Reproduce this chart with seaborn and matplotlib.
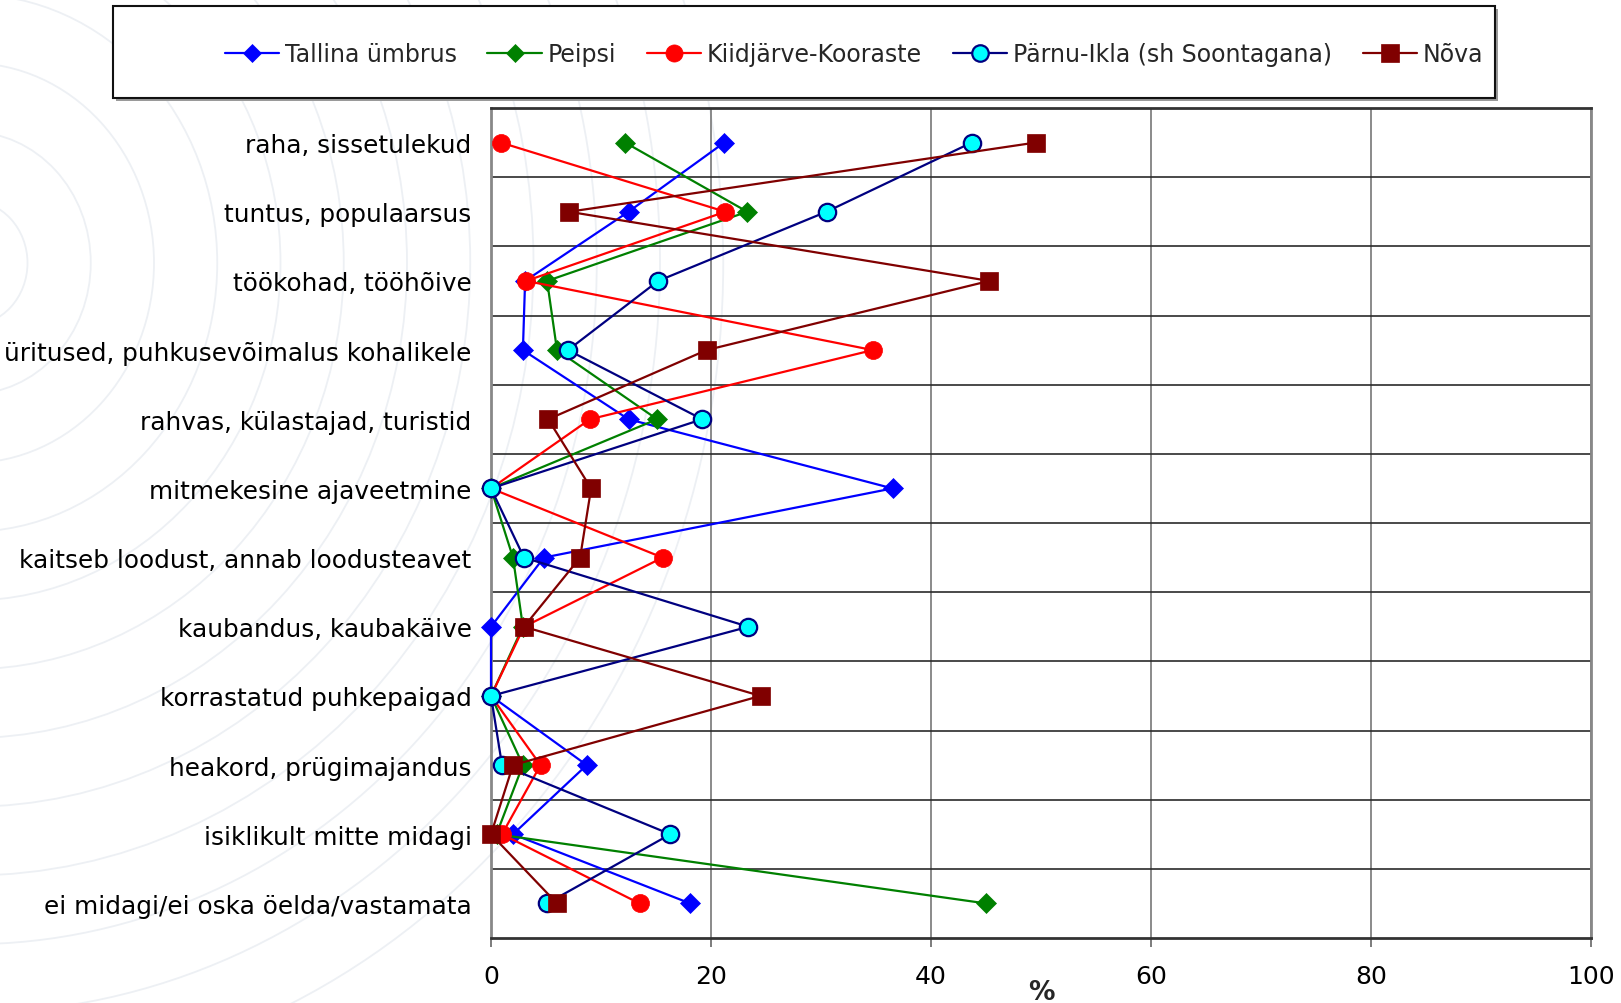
import numpy as np
import pandas as pd
import matplotlib
matplotlib.use("Agg")
import matplotlib.pyplot as plt
import seaborn as sns
from matplotlib.patches import Ellipse, Rectangle

# ---------------- data ----------------
categories = [
    "raha, sissetulekud",
    "tuntus, populaarsus",
    "töökohad, tööhõive",
    "üritused, puhkusevõimalus kohalikele",
    "rahvas, külastajad, turistid",
    "mitmekesine ajaveetmine",
    "kaitseb loodust, annab loodusteavet",
    "kaubandus, kaubakäive",
    "korrastatud puhkepaigad",
    "heakord, prügimajandus",
    "isiklikult mitte midagi",
    "ei midagi/ei oska öelda/vastamata",
]
series_names = ["Tallina ümbrus", "Peipsi", "Kiidjärve-Kooraste",
                "Pärnu-Ikla (sh Soontagana)", "Nõva"]
tallina = [21.2, 12.5, 3.1, 2.9, 12.5, 36.5, 4.8, 0.0, 0.0, 8.7, 2.0, 18.1]
peipsi = [12.2, 23.3, 5.1, 6.0, 15.1, 0.0, 2.0, 2.9, 0.0, 2.9, 0.5, 45.0]
kiidjarve = [0.9, 21.3, 3.2, 34.7, 9.0, 0.0, 15.6, 3.0, 0.0, 4.5, 1.0, 13.5]
parnu = [43.7, 30.5, 15.2, 7.0, 19.2, 0.0, 3.0, 23.4, 0.0, 1.0, 16.3, 5.1]
nova = [49.5, 7.1, 45.3, 19.6, 5.2, 9.1, 8.1, 3.0, 24.5, 2.0, 0.0, 6.0]
x_ticks = [0, 20, 40, 60, 80, 100]

series_values = [tallina, peipsi, kiidjarve, parnu, nova]
line_colors = ["#0000FF", "#008000", "#FF0000", "#000080", "#800000"]
marker_styles = ["D", "D", "o", "o", "s"]
marker_sizes = [10, 10, 13, 12.5, 13]
face_colors = ["#0000FF", "#008000", "#FF0000", "#00FFFF", "#800000"]
edge_colors = ["#0000FF", "#008000", "#FF0000", "#000080", "#800000"]
edge_widths = [0.5, 0.5, 0.5, 1.6, 0.5]

# ---------------- style ----------------
sns.set_theme(style="white")
plt.rcParams["font.family"] = ["DejaVu Sans"]

W, H = 1621, 1004
fig = plt.figure(figsize=(W / 100, H / 100), dpi=100)
fig.patch.set_facecolor("white")

# faint decorative background arcs (watermark)
for r in np.arange(0.5, 6.6, 0.55):
    e = Ellipse((-0.3, 7.4), width=2 * r * 1.15, height=2 * r * 1.25,
                transform=fig.dpi_scale_trans, fill=False,
                edgecolor="#edf0f4", lw=1.3, zorder=0)
    fig.add_artist(e)

# legend frame (with slight shadow)
lx0, lx1, ly0, ly1 = 113, 1495, 7, 99
fig.add_artist(Rectangle(((lx0 + 3) / W, 1 - (ly1 + 3) / H), (lx1 - lx0) / W,
                         (ly1 - ly0) / H, transform=fig.transFigure,
                         facecolor="#9a9a9a", edgecolor="none", zorder=1))
fig.add_artist(Rectangle((lx0 / W, 1 - ly1 / H), (lx1 - lx0) / W,
                         (ly1 - ly0) / H, transform=fig.transFigure,
                         facecolor="white", edgecolor="#111111", lw=1.5,
                         zorder=2))

ax_l, ax_r, ax_t, ax_b = 491, 1591, 109, 939
ax = fig.add_axes([ax_l / W, 1 - ax_b / H, (ax_r - ax_l) / W, (ax_b - ax_t) / H])
ax.set_facecolor("none")

pos = np.arange(len(categories))
for i, name in enumerate(series_names):
    df = pd.DataFrame({"value": series_values[i], "pos": pos})
    sns.lineplot(data=df, x="value", y="pos", sort=False, estimator=None,
                 color=line_colors[i], marker=marker_styles[i],
                 markersize=marker_sizes[i], markerfacecolor=face_colors[i],
                 markeredgecolor=edge_colors[i],
                 markeredgewidth=edge_widths[i], linewidth=1.6,
                 clip_on=False, zorder=5 + i, legend=False, ax=ax)

ax.set_xlim(0, 100)
ax.set_ylim(len(categories) - 0.5, -0.5)
ax.set_xticks(x_ticks)
ax.set_xticklabels([str(t) for t in x_ticks], fontsize=18)
ax.set_yticks(pos)
ax.set_yticklabels(categories, fontsize=17.8)
ax.set_yticks(np.arange(0.5, len(categories) - 0.5, 1), minor=True)
ax.tick_params(axis="y", which="both", length=0, pad=14, colors="black")
ax.tick_params(axis="x", which="major", direction="out", length=6.5,
               width=1.2, color="#666666", pad=12, labelcolor="black",
               bottom=True)
ax.grid(False)
ax.grid(which="minor", axis="y", color="#2a2a2a", lw=1.2, zorder=1)
ax.grid(which="major", axis="x", color="#777777", lw=1.2, zorder=1)
ax.set_ylabel("")
ax.set_xlabel("%", fontsize=19, fontweight="bold")
ax.xaxis.set_label_coords(0.5, -(993 - ax_b) / (ax_b - ax_t))
ax.xaxis.label.set_va("center")

for side in ["top", "bottom"]:
    ax.spines[side].set_color("#333333")
    ax.spines[side].set_linewidth(2)
for side in ["left", "right"]:
    ax.spines[side].set_color("#888888")
    ax.spines[side].set_linewidth(2)
for s in ax.spines.values():
    s.set_visible(True)

handles = ax.lines[:len(series_names)]
leg = fig.legend(handles, series_names, loc="center",
                 bbox_to_anchor=(854 / W, 1 - 55 / H), ncol=5, frameon=False,
                 fontsize=17, handlelength=2.3, handletextpad=0.25,
                 columnspacing=1.3, markerscale=0.95)
leg.set_zorder(3)

fig.savefig("out.png", dpi=100)
